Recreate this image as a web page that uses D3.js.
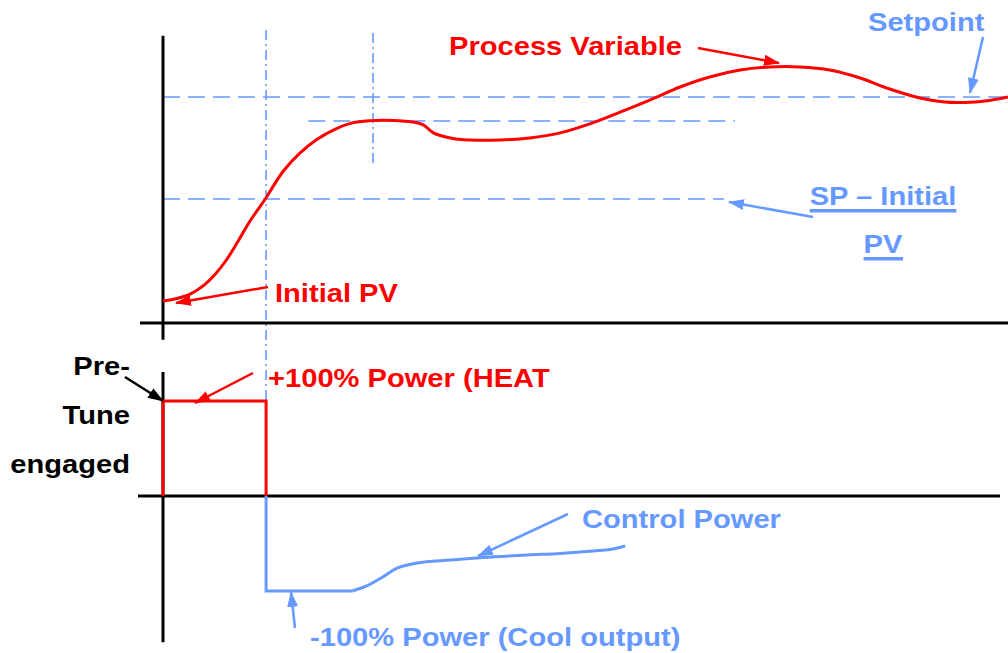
<!DOCTYPE html>
<html>
<head>
<meta charset="utf-8">
<script src="https://cdn.jsdelivr.net/npm/d3@7/dist/d3.min.js"></script>
<style>
  html, body { margin: 0; padding: 0; background: #ffffff; }
  svg { display: block; }
  text { font-family: "Liberation Sans", Arial, sans-serif; font-weight: bold; font-size: 26px; }
</style>
</head>
<body>
<svg id="chart" width="1008" height="653"></svg>
<script>
// ---------- data ----------
// time axis in % of the plotted run, PV in % of (SP - initial PV), power in %
const pvTime  = [0, 1.4, 3.2, 5.0, 6.2, 7.5, 8.9, 10.3, 12.1, 14.2, 16.2, 18.2, 20.4, 22.4, 24.5, 26.3, 29.6, 30.8, 32.0, 34.0, 36.3, 39.9, 43.4, 47.0, 50.5, 54.1, 57.6, 61.2, 64.7, 68.3, 71.8, 75.4, 78.9, 82.5, 86.0, 89.6, 92.5, 94.9, 97.3, 100];
const pvValue = [0, 1.0, 3.4, 8.3, 13.2, 20.1, 29.4, 39.2, 50.0, 63.5, 72.5, 79.2, 84.3, 87.3, 88.4, 88.6, 87.7, 86.3, 82.4, 79.9, 78.9, 78.9, 79.9, 82.4, 86.8, 92.6, 98.5, 104.9, 109.8, 113.2, 114.7, 114.7, 113.2, 109.3, 103.9, 99.5, 97.5, 97.3, 98.0, 100];

const heatTime  = [0, 0, 12.2, 12.2];
const heatValue = [0, 100, 100, 0];

const coolTime  = [12.2, 12.2, 22.4, 24.1, 26.0, 27.7, 30.1, 34.0, 37.9, 43.1, 47.0, 50.9, 52.9, 54.7];
const coolValue = [0, -100, -100, -94.7, -85.3, -75.8, -70.5, -67.4, -64.7, -62.1, -60.5, -57.9, -56.3, -52.6];

const setpointLevel = 100;      // SP
const initialPVLevel = 0;       // initial PV
const halfLevel = 50;           // SP - initial PV (half way)
const plateauLevel = 88.2;      // first peak plateau
const tuneEndTime = 12.2;       // heat switched off
const peakTime = 24.85;         // first peak

// ---------- layout ----------
const svg = d3.select("#chart");
const RED = "#ff0000", BLUE = "#6699ff", BLACK = "#000000";

const x = d3.scaleLinear().domain([0, 100]).range([163, 1008]);
const yPV = d3.scaleLinear().domain([0, 100]).range([301, 97]);
const yPow = d3.scaleLinear().domain([0, 100]).range([496, 401]);

// markers
const defs = svg.append("defs");
function marker(id, color) {
  defs.append("marker")
    .attr("id", id).attr("markerUnits", "userSpaceOnUse")
    .attr("viewBox", "0 -6 16 12").attr("refX", 15).attr("refY", 0)
    .attr("markerWidth", 16).attr("markerHeight", 12).attr("orient", "auto")
    .append("path").attr("d", "M0,-5.5L16,0L0,5.5Z").attr("fill", color);
}
marker("arR", RED); marker("arB", BLUE); marker("arK", BLACK);

// ---------- reference lines ----------
const dash = "17,8";
const refs = svg.append("g").attr("stroke", BLUE).attr("stroke-width", 1.6).attr("fill", "none");
refs.append("line").attr("x1", x(0)).attr("x2", x(100)).attr("y1", yPV(setpointLevel)).attr("y2", yPV(setpointLevel)).attr("stroke-dasharray", dash);
refs.append("line").attr("x1", x(17.2)).attr("x2", x(67.7)).attr("y1", yPV(plateauLevel)).attr("y2", yPV(plateauLevel)).attr("stroke-dasharray", dash);
refs.append("line").attr("x1", x(0)).attr("x2", x(66.4)).attr("y1", yPV(halfLevel)).attr("y2", yPV(halfLevel)).attr("stroke-dasharray", dash);
refs.append("line").attr("x1", x(tuneEndTime)).attr("x2", x(tuneEndTime)).attr("y1", 30).attr("y2", yPow(0)).attr("stroke-dasharray", "10,4,2,4");
refs.append("line").attr("x1", x(peakTime)).attr("x2", x(peakTime)).attr("y1", 33).attr("y2", 164).attr("stroke-dasharray", "10,4,2,4");

// ---------- axes ----------
const ax = svg.append("g").attr("stroke", BLACK).attr("stroke-width", 3);
ax.append("line").attr("x1", x(0)).attr("x2", x(0)).attr("y1", yPV(130)).attr("y2", yPV(-19));
ax.append("line").attr("x1", 140).attr("x2", x(100)).attr("y1", yPV(-10.8)).attr("y2", yPV(-10.8));
ax.append("line").attr("x1", x(0)).attr("x2", x(0)).attr("y1", yPow(130.5)).attr("y2", yPow(-154));
ax.append("line").attr("x1", 138).attr("x2", 1000).attr("y1", yPow(0)).attr("y2", yPow(0));

// ---------- series ----------
const pvLine = d3.line().x(d => x(d[0])).y(d => yPV(d[1])).curve(d3.curveCatmullRom.alpha(0.5));
svg.append("path").datum(d3.zip(pvTime, pvValue)).attr("d", pvLine)
  .attr("fill", "none").attr("stroke", RED).attr("stroke-width", 3);

const stepLine = d3.line().x(d => x(d[0])).y(d => yPow(d[1]));
svg.append("path").datum(d3.zip(coolTime.slice(0, 3), coolValue.slice(0, 3))).attr("d", stepLine)
  .attr("fill", "none").attr("stroke", BLUE).attr("stroke-width", 3);
svg.append("path").datum(d3.zip(coolTime.slice(2), coolValue.slice(2)))
  .attr("d", d3.line().x(d => x(d[0])).y(d => yPow(d[1])).curve(d3.curveCatmullRom.alpha(0.5)))
  .attr("fill", "none").attr("stroke", BLUE).attr("stroke-width", 3);
svg.append("path").datum(d3.zip(heatTime, heatValue)).attr("d", stepLine)
  .attr("fill", "none").attr("stroke", RED).attr("stroke-width", 3).attr("stroke-linejoin", "miter");

// ---------- annotation arrows ----------
function arrow(x1, y1, x2, y2, color, m) {
  svg.append("line").attr("x1", x1).attr("y1", y1).attr("x2", x2).attr("y2", y2)
    .attr("stroke", color).attr("stroke-width", 2.5).attr("marker-end", `url(#${m})`);
}
arrow(698, 48, 779, 63, RED, "arR");
arrow(983, 37, 970, 93, BLUE, "arB");
arrow(813, 217, 729, 202, BLUE, "arB");
arrow(268, 287, 176, 303, RED, "arR");
arrow(253, 373, 195, 403, RED, "arR");
arrow(125, 377, 163, 401, BLACK, "arK");
arrow(568, 514, 478, 556, BLUE, "arB");
arrow(295, 628, 291, 592, BLUE, "arB");

// ---------- labels ----------
const SX = 1.12;
function label(txt, px, py, color, anchor, underline) {
  const g = svg.append("g").attr("transform", `translate(${px},${py}) scale(${SX},1)`);
  const t = g.append("text").attr("x", 0).attr("y", 0).attr("fill", color)
    .attr("text-anchor", anchor || "start").text(txt);
  if (underline) {
    const b = t.node().getBBox();
    g.append("rect").attr("x", b.x).attr("y", 4).attr("width", b.width).attr("height", 3.5).attr("fill", color);
  }
}
label("Process Variable", 449, 55, RED);
label("Setpoint", 868, 31, BLUE);
label("SP \u2013 Initial", 883, 205, BLUE, "middle", true);
label("PV", 883, 253, BLUE, "middle", true);
label("Initial PV", 275, 302, RED);
label("+100% Power (HEAT", 268, 387, RED);
label("Pre-", 130, 375, BLACK, "end");
label("Tune", 130, 424, BLACK, "end");
label("engaged", 130, 473, BLACK, "end");
label("Control Power", 582, 528, BLUE);
label("-100% Power (Cool output)", 310, 646, BLUE);
</script>
</body>
</html>
